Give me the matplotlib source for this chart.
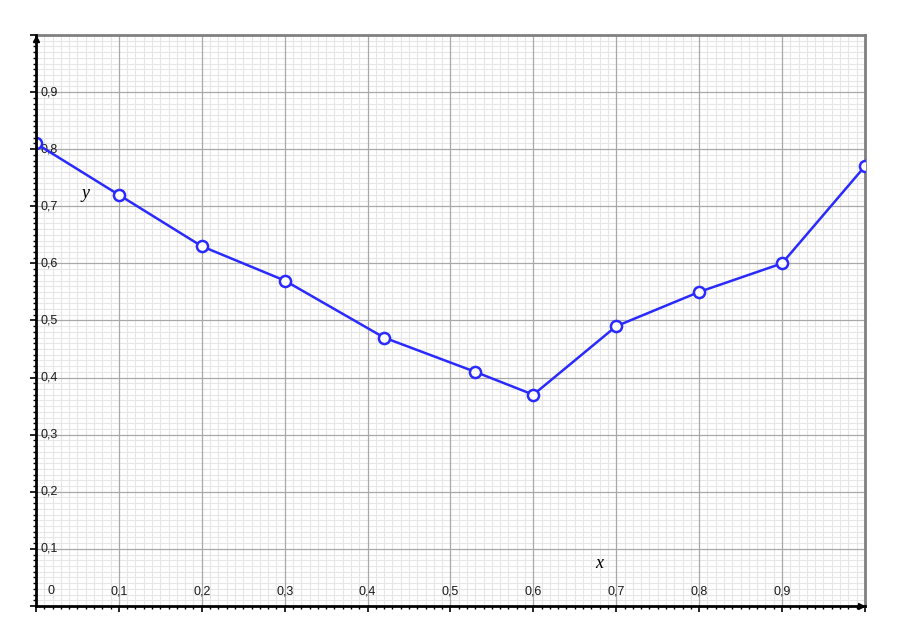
import matplotlib
matplotlib.use("Agg")
import matplotlib.pyplot as plt
import numpy as np
from matplotlib.ticker import MultipleLocator

x_vals = [0.0, 0.1, 0.2, 0.3, 0.42, 0.53, 0.6, 0.7, 0.8, 0.9, 1.0]
y_vals = [0.81, 0.72, 0.63, 0.57, 0.47, 0.41, 0.37, 0.49, 0.55, 0.60, 0.77]
x_ticks = [0.1, 0.2, 0.3, 0.4, 0.5, 0.6, 0.7, 0.8, 0.9]
x_tick_labels = ["0,1", "0,2", "0,3", "0,4", "0,5", "0,6", "0,7", "0,8", "0,9"]
y_ticks = [0.1, 0.2, 0.3, 0.4, 0.5, 0.6, 0.7, 0.8, 0.9]
y_tick_labels = ["0,1", "0,2", "0,3", "0,4", "0,5", "0,6", "0,7", "0,8", "0,9"]

fig = plt.figure(figsize=(9, 6.42), dpi=100)
ax = fig.add_axes([0.04, 0.0561, 0.921, 0.8894])
ax.set_xlim(0, 1)
ax.set_ylim(0, 1)

ax.xaxis.set_major_locator(MultipleLocator(0.1))
ax.yaxis.set_major_locator(MultipleLocator(0.1))
ax.xaxis.set_minor_locator(MultipleLocator(0.01))
ax.yaxis.set_minor_locator(MultipleLocator(0.01))
ax.grid(which="minor", color="#e6e6e6", linewidth=0.8, linestyle="-")
ax.set_axisbelow(True)
# major grid drawn above the minor grid
ax.vlines(x_ticks, 0, 1, colors="#a8a8a8", linewidth=0.9, zorder=0.8)
ax.hlines(y_ticks, 0, 1, colors="#a8a8a8", linewidth=0.9, zorder=0.8)

ax.tick_params(which="both", direction="out", labelbottom=False, labelleft=False,
               color="black")
ax.tick_params(which="major", length=4, width=1.2)
ax.tick_params(which="minor", length=2.5, width=1.0)
ax.tick_params(top=False, right=False)

for s in ["top", "right"]:
    ax.spines[s].set_color("#808080")
    ax.spines[s].set_linewidth(2)
for s in ["left", "bottom"]:
    ax.spines[s].set_color("black")
    ax.spines[s].set_linewidth(2)
    ax.spines[s].set_zorder(5)

# arrows at ends of axes
ax.plot([0], [0.993], marker="^", color="black", markersize=5, transform=ax.transAxes,
        clip_on=False, zorder=6)
ax.plot([0.995], [0], marker=">", color="black", markersize=5, transform=ax.transAxes,
        clip_on=False, zorder=6)

ax.plot(x_vals, y_vals, color="#2a2aff", linewidth=1.8, marker="o", markersize=8,
        markerfacecolor="white", markeredgecolor="#2a2aff", markeredgewidth=1.8,
        zorder=4, clip_on=True)

for yt, lab in zip(y_ticks, y_tick_labels):
    ax.text(0.006, yt, lab, ha="left", va="center", fontsize=9, color="#1a1a1a",
            family="Liberation Sans")
for xt, lab in zip(x_ticks, x_tick_labels):
    ax.text(xt, 0.026, lab, ha="center", va="center", fontsize=9, color="#1a1a1a",
            family="Liberation Sans")
ax.text(0.018, 0.026, "0", ha="center", va="center", fontsize=9, color="#1a1a1a",
        family="Liberation Sans")

ax.text(0.06, 0.723, "y", ha="center", va="center", fontsize=13, style="italic",
        family="Liberation Serif")
ax.text(0.679, 0.074, "x", ha="center", va="center", fontsize=13, style="italic",
        family="Liberation Serif")

fig.savefig("out.png", dpi=100)
